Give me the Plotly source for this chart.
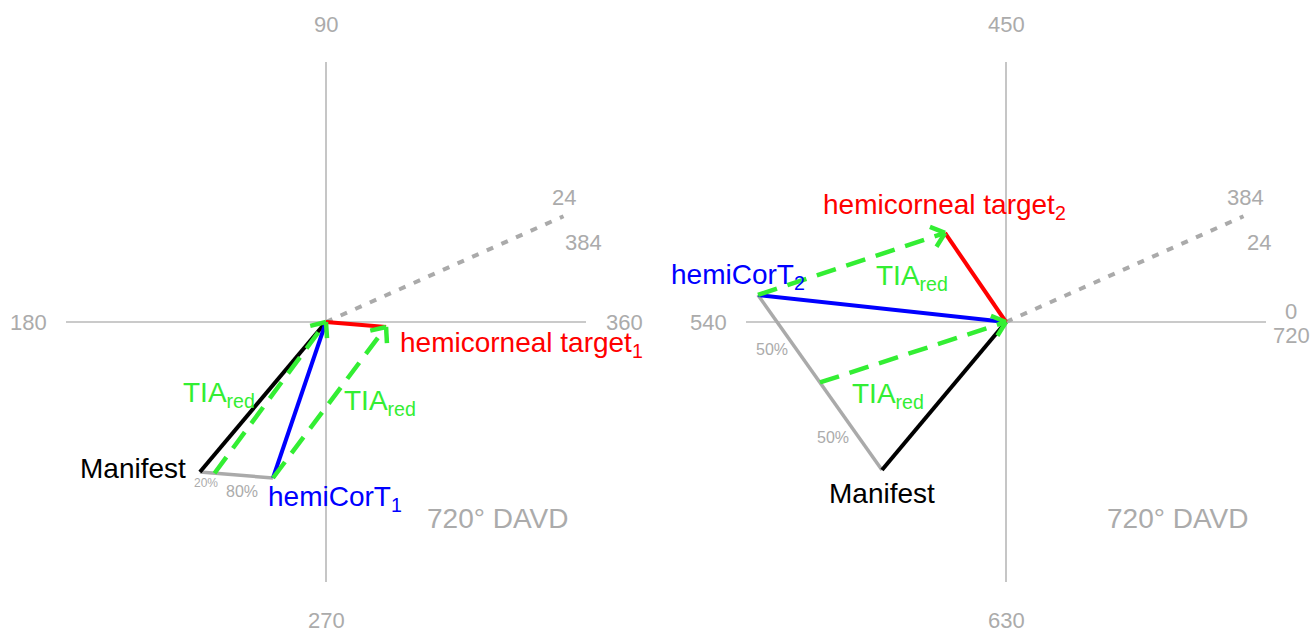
import numpy as np
import plotly.graph_objects as go
from plotly.subplots import make_subplots

# ---------------- data (DAVD cartesian components, dioptre-like units) ----------------
AXIS_RADIUS = 2.0
steep_meridian_deg = 24

# panel 1 (0-360 deg)
manifest_1 = (-0.97, -1.154)
hemicort_1 = (-0.408, -1.20)
target_1 = (0.462, -0.038)
split_1 = 0.20            # 20% / 80%

# panel 2 (360-720 deg)
manifest_2 = (-0.954, -1.138)
hemicort_2 = (-1.908, 0.208)
target_2 = (-0.469, 0.685)
split_2 = 0.50            # 50% / 50%

axis_labels_1 = ["360", "90", "180", "270"]
axis_labels_2 = ["0", "450", "540", "630"]
axis_label_720 = "720"
meridian_labels_1 = ["24", "384"]
meridian_labels_2 = ["384", "24"]
panel_title = "720° DAVD"

# ---------------- styles ----------------
FONT = "Liberation Sans, Arial, sans-serif"
AX_GRAY = "#B8B8B8"
TXT_GRAY = "#ABABAB"
GREEN = "#33EE33"
PX = 130.0  # pixels per unit

fig = make_subplots(rows=1, cols=2, horizontal_spacing=0)


def seg(col, p0, p1, color, width, dash="solid"):
    fig.add_trace(go.Scatter(x=[p0[0], p1[0]], y=[p0[1], p1[1]], mode="lines",
                             line=dict(color=color, width=width, dash=dash),
                             hoverinfo="skip", showlegend=False), row=1, col=col)


def arrow(col, p0, p1, color):
    seg(col, p0, p1, color, 4.5, dash="20px,11px")
    a = np.array(p0, float)
    b = np.array(p1, float)
    d = (b - a) / np.linalg.norm(b - a)
    L = 0.125
    xs, ys = [], []
    for ang in (np.radians(40), -np.radians(40)):
        r = np.array([d[0] * np.cos(ang) - d[1] * np.sin(ang),
                      d[0] * np.sin(ang) + d[1] * np.cos(ang)])
        q = b - L * r
        xs += [q[0], b[0], None]
        ys += [q[1], b[1], None]
    fig.add_trace(go.Scatter(x=xs, y=ys, mode="lines",
                             line=dict(color=color, width=4.5),
                             hoverinfo="skip", showlegend=False), row=1, col=col)


def ann(col, p, text, color, size, xshift=0, yshift=0, xanchor="center"):
    xr = "x" if col == 1 else "x2"
    yr = "y" if col == 1 else "y2"
    fig.add_annotation(x=p[0], y=p[1], xref=xr, yref=yr, text=text, showarrow=False,
                       font=dict(family=FONT, size=size, color=color),
                       xanchor=xanchor, yanchor="middle", xshift=xshift, yshift=yshift)


def mid(p, q, t=0.5):
    return (p[0] + t * (q[0] - p[0]), p[1] + t * (q[1] - p[1]))


origin = (0.0, 0.0)
R = AXIS_RADIUS
mer = (R * np.cos(np.radians(steep_meridian_deg)), R * np.sin(np.radians(steep_meridian_deg)))

for col in (1, 2):
    seg(col, (-R, 0), (R, 0), AX_GRAY, 1.6)
    seg(col, (0, -R), (0, R), AX_GRAY, 1.6)
    seg(col, origin, mer, "#AAAAAA", 4, dash="7px,9px")
    ann(col, (R * 0.6615, -R * 0.754), panel_title, TXT_GRAY, 28)

# axis labels
off = 38
for col, labels in ((1, axis_labels_1), (2, axis_labels_2)):
    for lab, ang in zip(labels, (0, 90, 180, 270)):
        c, s = np.cos(np.radians(ang)), np.sin(np.radians(ang))
        p = (R * round(c), R * round(s))
        if col == 2 and ang == 0:
            ann(col, p, lab, TXT_GRAY, 22, xshift=25, yshift=11)
            ann(col, p, axis_label_720, TXT_GRAY, 22, xshift=25, yshift=-13)
        else:
            ann(col, p, lab, TXT_GRAY, 22, xshift=off * round(c), yshift=off * round(s))

ann(1, mer, meridian_labels_1[0], TXT_GRAY, 22, xshift=0, yshift=19)
ann(1, mer, meridian_labels_1[1], TXT_GRAY, 22, xshift=20, yshift=-26)
ann(2, mer, meridian_labels_2[0], TXT_GRAY, 22, xshift=2, yshift=19)
ann(2, mer, meridian_labels_2[1], TXT_GRAY, 22, xshift=15, yshift=-26)

# ---------- panel 1 ----------
p20 = mid(manifest_1, hemicort_1, split_1)
seg(1, manifest_1, hemicort_1, "#AAAAAA", 3.5)
seg(1, origin, manifest_1, "black", 4)
seg(1, origin, hemicort_1, "#0000FF", 4)
seg(1, origin, target_1, "#FF0000", 4)
arrow(1, p20, origin, GREEN)
arrow(1, hemicort_1, target_1, GREEN)

ann(1, manifest_1, "Manifest", "black", 28, xshift=-12, yshift=4, xanchor="right")
ann(1, hemicort_1, "hemiCorT<sub>1</sub>", "#0000FF", 28, xshift=-7, yshift=-20, xanchor="left")
ann(1, target_1, "hemicorneal target<sub>1</sub>", "#FF0000", 28, xshift=12, yshift=-18, xanchor="left")
ann(1, mid(p20, origin), "TIA<sub>red</sub>", GREEN, 28, xshift=-51, yshift=3)
ann(1, mid(hemicort_1, target_1), "TIA<sub>red</sub>", GREEN, 28, xshift=50, yshift=0)
ann(1, mid(manifest_1, p20), f"{round(split_1 * 100)}%", TXT_GRAY, 12, xshift=-1, yshift=-10)
ann(1, mid(p20, hemicort_1), f"{round((1 - split_1) * 100)}%", TXT_GRAY, 16, xshift=-2, yshift=-16)

# ---------- panel 2 ----------
p50 = mid(hemicort_2, manifest_2, split_2)
seg(2, hemicort_2, manifest_2, "#AAAAAA", 3.5)
seg(2, origin, manifest_2, "black", 4)
seg(2, origin, hemicort_2, "#0000FF", 4)
seg(2, origin, target_2, "#FF0000", 4)
arrow(2, p50, origin, GREEN)
arrow(2, hemicort_2, target_2, GREEN)

ann(2, target_2, "hemicorneal target<sub>2</sub>", "#FF0000", 28, xshift=-1, yshift=26)
ann(2, hemicort_2, "hemiCorT<sub>2</sub>", "#0000FF", 28, xshift=-20, yshift=18)
ann(2, mid(hemicort_2, target_2), "TIA<sub>red</sub>", GREEN, 28, xshift=60, yshift=-14)
ann(2, mid(p50, origin), "TIA<sub>red</sub>", GREEN, 28, xshift=-25, yshift=-43)
ann(2, manifest_2, "Manifest", "black", 28, xshift=0, yshift=-24)
ann(2, mid(hemicort_2, p50), f"{round(split_2 * 100)}%", TXT_GRAY, 16, xshift=-17, yshift=-11)
ann(2, mid(p50, manifest_2), f"{round((1 - split_2) * 100)}%", TXT_GRAY, 16, xshift=-18, yshift=-11)

W, H = 1312, 632
axis_common = dict(visible=False, showgrid=False, zeroline=False, fixedrange=True)
fig.update_layout(
    width=W, height=H, margin=dict(l=0, r=0, t=0, b=0),
    paper_bgcolor="white", plot_bgcolor="white", showlegend=False,
    xaxis=dict(domain=[0, 0.5], range=[-326 / PX, 330 / PX], **axis_common),
    xaxis2=dict(domain=[0.5, 1], range=[-350 / PX, 306 / PX], **axis_common),
    yaxis=dict(domain=[0, 1], range=[-310 / PX, 322 / PX], **axis_common),
    yaxis2=dict(domain=[0, 1], range=[-310 / PX, 322 / PX], **axis_common),
)

fig.write_html("out.html", config={"displayModeBar": False},
               post_script="document.body.style.margin='0';")
